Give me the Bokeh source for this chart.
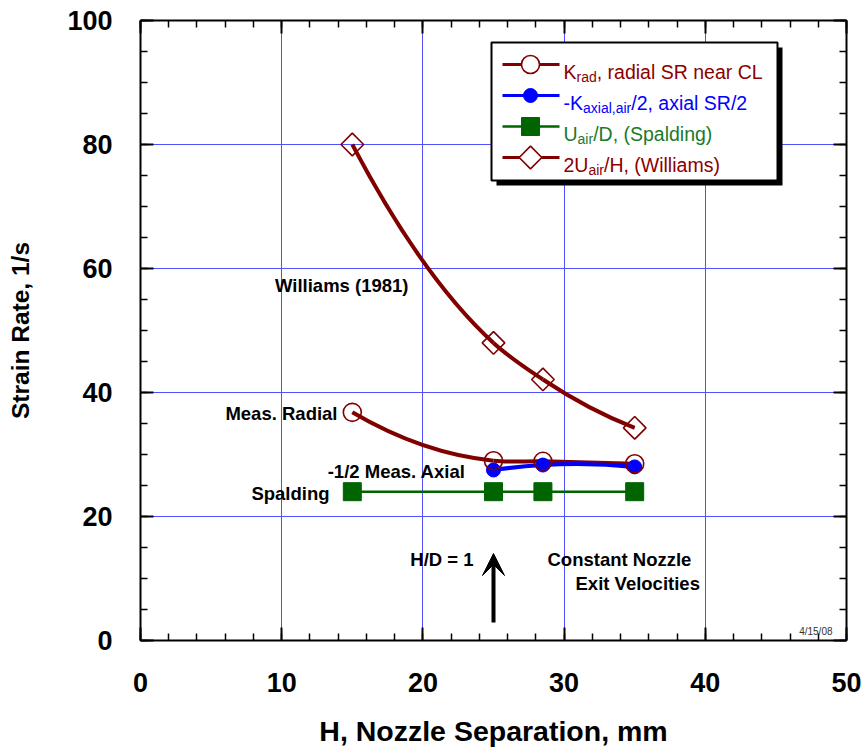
import numpy as np
from bokeh.plotting import figure
from bokeh.models import (Range1d, LinearAxis, SingleIntervalTicker, Label,
                          Arrow, VeeHead)
from bokeh.embed import file_html
from bokeh.resources import INLINE

# ---------------- data ----------------
h_mm = [15, 25, 28.5, 35]               # nozzle separation H, mm
williams = [80, 48, 42.1, 34.3]          # 2U_air/H (Williams)
radial = [36.8, 29.0, 28.9, 28.5]        # K_rad, radial SR near CL
h_axial = [25, 28.5, 35]
axial = [27.5, 28.3, 28.0]               # -K_axial,air/2
spalding = [24, 24, 24, 24]              # U_air/D (Spalding)

x_interval, y_interval = 10, 20

# ---------------- colours / fonts ----------------
RED = "#800000"
RED_TXT = "#8B0000"
BLUE = "#0000FF"
GREEN = "#006400"
GREEN_TXT = "#1B7A2B"
GRID = "#5050ff"
FONT = "Liberation Sans"

W, H = 864, 751
FL, FR, FT, FB = 140, 846, 20, 640
XMAX, YMAX = 50, 100


def dx(px):
    return (px - FL) / (FR - FL) * XMAX


def dy(py):
    return (FB - py) / (FB - FT) * YMAX


p = figure(width=W, height=H, x_range=Range1d(0, XMAX), y_range=Range1d(0, YMAX),
           min_border_left=FL, min_border_right=W - FR, min_border_top=FT,
           min_border_bottom=H - FB, output_backend="svg", toolbar_location=None)
p.outline_line_color = None
p.background_fill_color = "white"

xt = SingleIntervalTicker(interval=x_interval, num_minor_ticks=5)
yt = SingleIntervalTicker(interval=y_interval, num_minor_ticks=4)
bottom = p.xaxis[0]
left = p.yaxis[0]
bottom.ticker = xt
left.ticker = yt
p.xgrid.ticker = xt
p.ygrid.ticker = yt
for g in (p.xgrid, p.ygrid):
    g.grid_line_color = GRID
    g.grid_line_width = 1

top = LinearAxis(ticker=xt)
right = LinearAxis(ticker=yt)
p.add_layout(top, "above")
p.add_layout(right, "right")

for ax in (bottom, left, top, right):
    ax.axis_line_width = 2
    ax.axis_line_color = "black"
    ax.major_tick_in = 13
    ax.major_tick_out = 0
    ax.minor_tick_in = 7
    ax.minor_tick_out = 0
    ax.major_tick_line_width = 2
    ax.minor_tick_line_width = 1.5
    ax.major_tick_line_color = "black"
    ax.minor_tick_line_color = "black"
    ax.major_label_text_font = FONT
    ax.major_label_text_font_style = "bold"
    ax.major_label_text_font_size = "27px"
    ax.major_label_text_color = "black"
    ax.axis_label_text_font = FONT
    ax.axis_label_text_font_style = "bold"
    ax.axis_label_text_color = "black"

for ax in (top, right):
    ax.major_label_text_font_size = "1px"
    ax.major_label_text_color = None
    ax.major_label_standoff = 0

bottom.axis_label = "H, Nozzle Separation, mm"
left.axis_label = "Strain Rate, 1/s"
bottom.axis_label_text_font_size = "28.5px"
left.axis_label_text_font_size = "24.5px"
bottom.major_label_standoff = 32
left.major_label_standoff = 28
bottom.axis_label_standoff = 20
left.axis_label_standoff = 30


# ---------------- smooth curves (cubic Hermite through the data) ----------------
def smooth(xs, ys, color, width):
    xs = np.asarray(xs, float)
    ys = np.asarray(ys, float)
    n = len(xs)
    m = np.zeros(n)
    for i in range(n):
        j = min(max(i - 1, 0), n - 3)
        x0, x1, x2 = xs[j:j + 3]
        y0, y1, y2 = ys[j:j + 3]
        d01 = (y1 - y0) / (x1 - x0)
        d12 = (y2 - y1) / (x2 - x1)
        d012 = (d12 - d01) / (x2 - x0)
        m[i] = d01 + d012 * ((xs[i] - x0) + (xs[i] - x1))
    h = xs[1:] - xs[:-1]
    p.bezier(x0=xs[:-1], y0=ys[:-1], x1=xs[1:], y1=ys[1:],
             cx0=xs[:-1] + h / 3, cy0=ys[:-1] + m[:-1] * h / 3,
             cx1=xs[1:] - h / 3, cy1=ys[1:] - m[1:] * h / 3,
             line_color=color, line_width=width)


smooth(h_mm, williams, RED, 4)
smooth(h_mm, radial, RED, 4)
smooth(h_axial, axial, BLUE, 4)
p.line(h_mm, spalding, line_color=GREEN, line_width=2.5)

p.scatter(h_axial, axial, marker="circle", size=14, fill_color=BLUE, line_color=BLUE)
p.scatter(h_mm, radial, marker="circle", size=18, fill_color=None, line_color=RED,
          line_width=1.6)
p.scatter(h_mm, williams, marker="square", angle=np.pi / 4, size=16, fill_color=None,
          line_color=RED, line_width=1.6)
p.scatter(h_mm, spalding, marker="square", size=18, fill_color=GREEN, line_color=GREEN)

# ---------------- legend box ----------------
p.quad(left=[dx(496)], right=[dx(782)], top=[dy(47)], bottom=[dy(185)],
       fill_color="black", line_color=None)
p.quad(left=[dx(491)], right=[dx(777)], top=[dy(42)], bottom=[dy(180)],
       fill_color="white", line_color="black", line_width=2)

AW = {"K": 667, "-": 333, "U": 722, "2": 556, "r": 333, "a": 556, "d": 556,
      "x": 500, "i": 222, "l": 222, ",": 278}


def tw(s, size):
    return sum(AW[c] for c in s) / 1000 * size


rows = [
    ("K", "rad", ", radial SR near CL", RED, RED_TXT, "circle_open"),
    ("-K", "axial,air", "/2, axial SR/2", BLUE, BLUE, "dot"),
    ("U", "air", "/D, (Spalding)", GREEN, GREEN_TXT, "square"),
    ("2U", "air", "/H, (Williams)", RED, RED_TXT, "diamond"),
]
row_y = [64, 95, 126, 157]
MAIN, SUB = 19.5, 14
for (a, s, b, lc, tc, mk), yc in zip(rows, row_y):
    p.line([dx(502), dx(559)], [dy(yc), dy(yc)], line_color=lc,
           line_width=2.5 if mk == "square" else 3)
    if mk == "circle_open":
        p.scatter([dx(530)], [dy(yc)], marker="circle", size=18, fill_color="white",
                  line_color=lc, line_width=1.6)
    elif mk == "dot":
        p.scatter([dx(530)], [dy(yc)], marker="circle", size=14, fill_color=lc,
                  line_color=lc)
    elif mk == "square":
        p.scatter([dx(530)], [dy(yc)], marker="square", size=18, fill_color=lc,
                  line_color=lc)
    else:
        p.scatter([dx(530)], [dy(yc)], marker="square", angle=np.pi / 4, size=16,
                  fill_color="white", line_color=lc, line_width=1.6)
    x0 = 563
    base = yc + 7
    p.add_layout(Label(x=dx(x0), y=dy(base), text=a, text_font=FONT,
                       text_font_size=f"{MAIN}px", text_color=tc,
                       text_baseline="alphabetic"))
    x1 = x0 + tw(a, MAIN)
    p.add_layout(Label(x=dx(x1), y=dy(base + 5), text=s, text_font=FONT,
                       text_font_size=f"{SUB}px", text_color=tc,
                       text_baseline="alphabetic"))
    x2 = x1 + tw(s, SUB)
    p.add_layout(Label(x=dx(x2), y=dy(base), text=b, text_font=FONT,
                       text_font_size=f"{MAIN}px", text_color=tc,
                       text_baseline="alphabetic"))


# ---------------- annotations ----------------
def note(px, py, text, align="left", size="18.5px", style="bold", color="black"):
    p.add_layout(Label(x=dx(px), y=dy(py), text=text, text_font=FONT,
                       text_font_size=size, text_font_style=style,
                       text_color=color, text_align=align,
                       text_baseline="middle"))


note(408, 285, "Williams (1981)", align="right")
note(337, 413, "Meas. Radial", align="right")
note(465, 471, "-1/2 Meas. Axial", align="right")
note(329, 493, "Spalding", align="right")
note(473, 559, "H/D = 1", align="right")
note(547, 559, "Constant Nozzle")
note(575, 583, "Exit Velocities")
note(832, 631, "4/15/08", align="right", size="10px", style="normal", color="#333333")

p.add_layout(Arrow(end=VeeHead(size=22, fill_color="black", line_color="black"),
                   x_start=25, y_start=dy(622), x_end=25, y_end=dy(553),
                   line_width=4, line_color="black"))

open("out.html", "w").write(file_html(p, INLINE))
